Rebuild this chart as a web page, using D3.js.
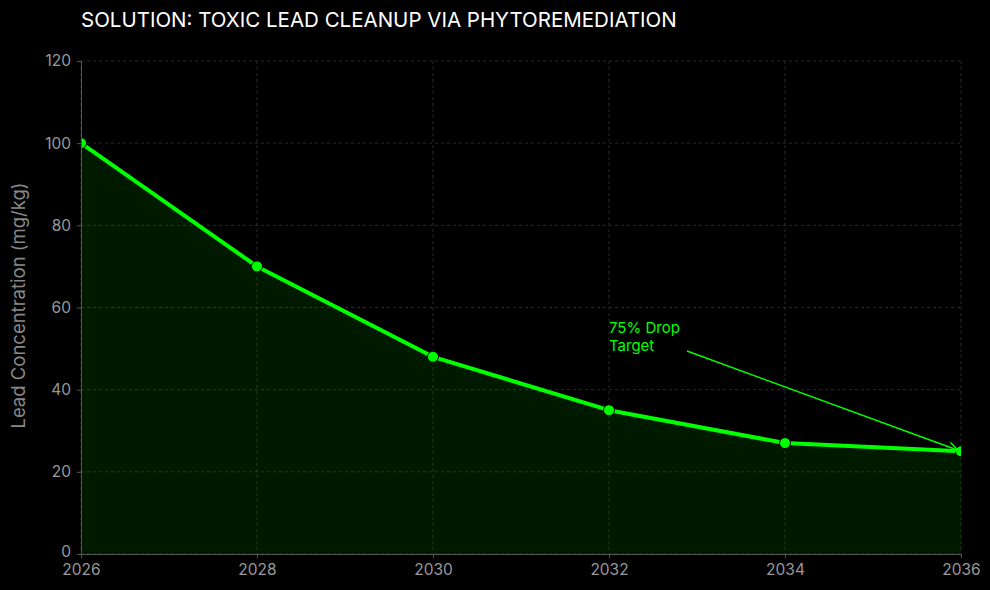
<!DOCTYPE html>
<html>
<head>
<meta charset="utf-8">
<script src="https://cdn.jsdelivr.net/npm/d3@7"></script>
<style>
  body { margin: 0; background: #000; }
  text { font-family: Inter, "Noto Sans", sans-serif; }
</style>
</head>
<body>
<div id="vis"></div>
<script>
// Chart data
const years = [2026, 2028, 2030, 2032, 2034, 2036];
const lead = [100, 70, 48, 35, 27, 25];
const yTicks = [0, 20, 40, 60, 80, 100, 120];
const xTicks = [2026, 2028, 2030, 2032, 2034, 2036];
const note = ['75% Drop', 'Target'];
const noteAt = { x: 2032, y: 52 };

const green = '#00ff00';

// Margins
const margin = { top: 61, right: 29, bottom: 36, left: 81 };
const width = 990 - margin.left - margin.right;
const height = 590 - margin.top - margin.bottom;

const svg = d3.select('#vis')
    .append('svg')
    .attr('width', 990)
    .attr('height', 590)
    .style('background', '#000');

const g = svg.append('g')
    .attr('transform', `translate(${margin.left},${margin.top})`);

const x = d3.scaleLinear().domain([2026, 2036]).range([0, width]);
const y = d3.scaleLinear().domain([0, 120]).range([height, 0]);

// Grid
g.append('g')
    .selectAll('line')
    .data(yTicks)
    .join('line')
    .attr('x1', 0).attr('x2', width)
    .attr('y1', d => y(d)).attr('y2', d => y(d))
    .attr('stroke', '#333')
    .attr('stroke-width', 0.8)
    .attr('stroke-dasharray', '3,3');

g.append('g')
    .selectAll('line')
    .data(xTicks)
    .join('line')
    .attr('x1', d => x(d)).attr('x2', d => x(d))
    .attr('y1', 0).attr('y2', height)
    .attr('stroke', '#333')
    .attr('stroke-width', 0.8)
    .attr('stroke-dasharray', '3,3');

// Clip to the plot area
svg.append('defs').append('clipPath').attr('id', 'plot')
    .append('rect').attr('width', width).attr('height', height);

const data = years.map((d, i) => ({ year: d, v: lead[i] }));
const plot = g.append('g').attr('clip-path', 'url(#plot)');

plot.append('path')
    .datum(data)
    .attr('fill', green)
    .attr('fill-opacity', 0.1)
    .attr('d', d3.area().x(d => x(d.year)).y0(height).y1(d => y(d.v)));

plot.append('path')
    .datum(data)
    .attr('fill', 'none')
    .attr('stroke', green)
    .attr('stroke-width', 4)
    .attr('stroke-linejoin', 'round')
    .attr('d', d3.line().x(d => x(d.year)).y(d => y(d.v)));

plot.selectAll('circle')
    .data(data)
    .join('circle')
    .attr('cx', d => x(d.year))
    .attr('cy', d => y(d.v))
    .attr('r', 5.5)
    .attr('fill', green)
    .attr('stroke', '#000')
    .attr('stroke-width', 1);

// Axes
const xAxis = g.append('g')
    .attr('transform', `translate(0,${height})`)
    .call(d3.axisBottom(x).tickValues(xTicks).tickFormat(d3.format('d')).tickSize(4).tickPadding(6));
const yAxis = g.append('g')
    .call(d3.axisLeft(y).tickValues(yTicks).tickSize(4).tickPadding(6));

[xAxis, yAxis].forEach(a => {
    a.select('.domain').attr('stroke', '#555');
    a.selectAll('.tick line').attr('stroke', '#555');
    a.selectAll('.tick text').attr('fill', '#999').style('font-size', '15.5px').style('font-family', 'Inter, sans-serif');
});
// keep the "0" label clear of the "2026" label below it
yAxis.selectAll('.tick text').filter(d => d === 0).attr('dy', '0.15em');

// Labels
svg.append('text')
    .attr('x', 81)
    .attr('y', 27)
    .attr('fill', '#fff')
    .style('font-size', '20.5px')
    .text('SOLUTION: TOXIC LEAD CLEANUP VIA PHYTOREMEDIATION');

svg.append('text')
    .attr('transform', 'rotate(-90)')
    .attr('x', -(margin.top + height / 2) + 2)
    .attr('y', 25)
    .attr('text-anchor', 'middle')
    .attr('fill', '#888')
    .style('font-size', '18.5px')
    .text('Lead Concentration (mg/kg)');

// Annotation
svg.append('defs').append('marker')
    .attr('id', 'arrow')
    .attr('viewBox', '0 0 10 10')
    .attr('refX', 10).attr('refY', 5)
    .attr('markerWidth', 10).attr('markerHeight', 10)
    .attr('markerUnits', 'userSpaceOnUse')
    .attr('orient', 'auto')
    .append('path')
    .attr('d', 'M0,0 L10,5 L0,10')
    .attr('fill', 'none')
    .attr('stroke', green)
    .attr('stroke-width', 1.5);

const note_text = g.append('text')
    .attr('x', x(noteAt.x))
    .attr('y', y(noteAt.y) - 7)
    .attr('fill', green)
    .style('font-size', '15px');
note.forEach((t, i) => note_text.append('tspan')
    .attr('x', x(noteAt.x)).attr('dy', i ? 18 : 0).text(t));

g.append('line')
    .attr('x1', 606).attr('y1', 290)
    .attr('x2', x(years[5]) - 3).attr('y2', y(lead[5]) - 1)
    .attr('stroke', green)
    .attr('stroke-width', 1.5)
    .attr('marker-end', 'url(#arrow)');
</script>
</body>
</html>
